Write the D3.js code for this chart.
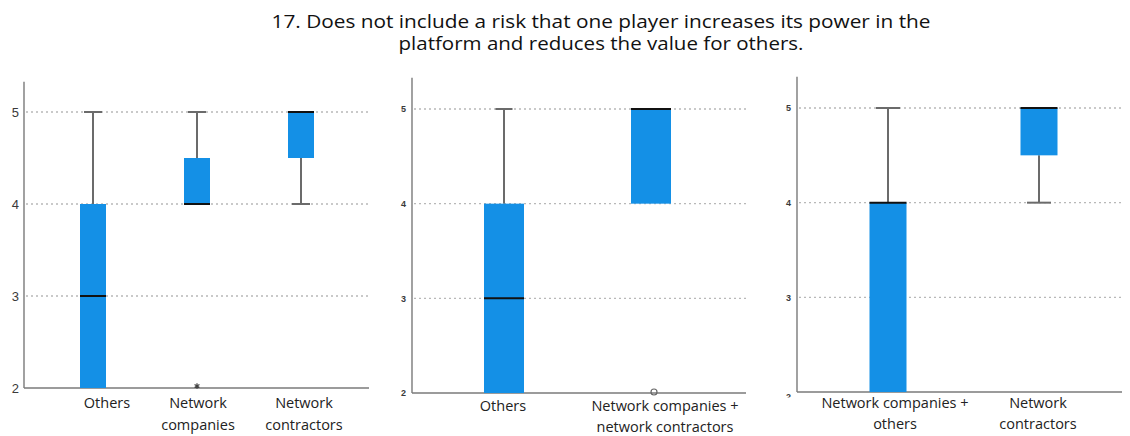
<!DOCTYPE html>
<html>
<head>
<meta charset="utf-8">
<script src="https://cdn.jsdelivr.net/npm/d3@7"></script>
<style>
  html, body { margin: 0; padding: 0; background: #fff; }
  svg { display: block; }
</style>
</head>
<body>
<svg id="chart" width="1130" height="436"></svg>
<script>
// ---- Data -------------------------------------------------------------
const titleLines = [
  "17. Does not include a risk that one player increases its power in the",
  "platform and reduces the value for others."
];
const yTicks = [2, 3, 4, 5];

// Panel A: three groups
const groupsA = ["Others", "Network companies", "Network contractors"];
const labelsA = [["Others"], ["Network", "companies"], ["Network", "contractors"]];
const minA    = [2, 4, 4];
const q1A     = [2, 4, 4.5];
const medA    = [3, 4, 5];
const q3A     = [4, 4.5, 5];
const maxA    = [5, 5, 5];
const outA    = [[], [2], []];          // extreme value (*)

// Panel B: others vs. all network parties
const groupsB = ["Others", "Network companies + network contractors"];
const labelsB = [["Others"], ["Network companies +", "network contractors"]];
const minB    = [2, 4];
const q1B     = [2, 4];
const medB    = [3, 5];
const q3B     = [4, 5];
const maxB    = [5, 5];
const outB    = [[], [2]];              // outlier (o)

// Panel C: network companies + others vs. contractors
const groupsC = ["Network companies + others", "Network contractors"];
const labelsC = [["Network companies +", "others"], ["Network", "contractors"]];
const minC    = [2, 4];
const q1C     = [2, 4.5];
const medC    = [4, 5];
const q3C     = [4, 5];
const maxC    = [5, 5];
const outC    = [[], []];

// ---- Layout -----------------------------------------------------------
const panels = [
  { groups: groupsA, labels: labelsA, min: minA, q1: q1A, med: medA, q3: q3A, max: maxA, out: outA,
    outShape: "star",
    axisX: 24, xEnd: 369, bandRange: [41, 353], boxW: 26, capW: 18,
    yBottom: 388, yTop5: 112, tickX: 15, tickSize: 13, tickWeight: "normal",
    labelDx: [14, 1, 3], labelY: 408, lineGap: 22, clipTick2: false },
  { groups: groupsB, labels: labelsB, min: minB, q1: q1B, med: medB, q3: q3B, max: maxB, out: outB,
    outShape: "circle",
    axisX: 412, xEnd: 746, bandRange: [430.5, 724.5], boxW: 40, capW: 17,
    yBottom: 393, yTop5: 109, tickX: 402, tickSize: 9, tickWeight: "bold",
    labelDx: [-1, 14], labelY: 411, lineGap: 21, clipTick2: false },
  { groups: groupsC, labels: labelsC, min: minC, q1: q1C, med: medC, q3: q3C, max: maxC, out: outC,
    outShape: "circle",
    axisX: 797, xEnd: 1122, bandRange: [812.5, 1114.5], boxW: 37, capW: 24,
    yBottom: 392, yTop5: 108, tickX: 787, tickSize: 9, tickWeight: "bold",
    labelDx: [7, -1], labelY: 408, lineGap: 21, clipTick2: true }
];

const boxFill = "#1490e6";
const whiskerColor = "#6b6b6b";
const svg = d3.select("#chart");

// Title
svg.append("g")
  .selectAll("text")
  .data(titleLines)
  .join("text")
  .attr("x", 601)
  .attr("y", (d, i) => 28 + i * 22)
  .attr("text-anchor", "middle")
  .attr("font-family", "'Open Sans', 'Noto Sans', sans-serif")
  .attr("font-size", 17.5)
  .attr("fill", "#111")
  .attr("textLength", (d, i) => i === 0 ? 659 : 405)
  .attr("lengthAdjust", "spacingAndGlyphs")
  .text(d => d);

// Clip (in tick-local coordinates) for the partly hidden "2" label of the last panel
svg.append("defs").append("clipPath").attr("id", "tickClip")
  .append("rect").attr("x", -20).attr("y", -20).attr("width", 30).attr("height", 25);

panels.forEach(p => {
  const g = svg.append("g");
  const y = d3.scaleLinear().domain([2, 5]).range([p.yBottom, p.yTop5]);
  const top = y(5.33);
  const x = d3.scalePoint().domain(p.groups).range(p.bandRange).padding(0.5);
  const cx = d => x(d);

  // dotted grid lines
  g.selectAll("line.grid")
    .data(yTicks.filter(t => t > 2))
    .join("line")
    .attr("x1", p.axisX + 2).attr("x2", p.xEnd)
    .attr("y1", d => y(d)).attr("y2", d => y(d))
    .attr("stroke", "#b8b8b8").attr("stroke-width", 1.4)
    .attr("stroke-dasharray", "2,3");

  // y axis tick labels via d3.axisLeft (domain line drawn separately)
  const ax = g.append("g")
    .attr("transform", `translate(${p.tickX + 4},0)`)
    .call(d3.axisLeft(y).tickValues(yTicks).tickSize(0).tickPadding(0).tickFormat(d3.format("d")));
  ax.select(".domain").remove();
  ax.selectAll("text")
    .attr("font-family", "'Liberation Sans', Arial, sans-serif")
    .attr("font-size", p.tickSize)
    .attr("font-weight", p.tickWeight)
    .attr("fill", "#3a3a3a");
  if (p.clipTick2) {
    ax.selectAll(".tick").filter(d => d === 2).attr("clip-path", "url(#tickClip)")
      .select("text").attr("dy", "0.8em");
  }

  // axis lines
  g.append("line")
    .attr("x1", p.axisX).attr("x2", p.axisX)
    .attr("y1", top).attr("y2", p.yBottom)
    .attr("stroke", "#7a7a7a").attr("stroke-width", 1.4);
  g.append("line")
    .attr("x1", p.axisX).attr("x2", p.xEnd)
    .attr("y1", p.yBottom).attr("y2", p.yBottom)
    .attr("stroke", "#7a7a7a").attr("stroke-width", 1.4);

  const rows = p.groups.map((grp, i) => ({
    grp, i, min: p.min[i], q1: p.q1[i], med: p.med[i], q3: p.q3[i], max: p.max[i], out: p.out[i]
  }));

  const bx = g.selectAll("g.box").data(rows).join("g").attr("class", "box");

  // upper whisker
  bx.filter(d => d.max > d.q3).append("line")
    .attr("x1", d => cx(d.grp)).attr("x2", d => cx(d.grp))
    .attr("y1", d => y(d.q3)).attr("y2", d => y(d.max))
    .attr("stroke", whiskerColor).attr("stroke-width", 2);
  bx.filter(d => d.max > d.q3).append("line")
    .attr("x1", d => cx(d.grp) - p.capW / 2).attr("x2", d => cx(d.grp) + p.capW / 2)
    .attr("y1", d => y(d.max)).attr("y2", d => y(d.max))
    .attr("stroke", whiskerColor).attr("stroke-width", 2);

  // lower whisker
  bx.filter(d => d.min < d.q1).append("line")
    .attr("x1", d => cx(d.grp)).attr("x2", d => cx(d.grp))
    .attr("y1", d => y(d.q1)).attr("y2", d => y(d.min))
    .attr("stroke", whiskerColor).attr("stroke-width", 2);
  bx.filter(d => d.min < d.q1).append("line")
    .attr("x1", d => cx(d.grp) - p.capW / 2).attr("x2", d => cx(d.grp) + p.capW / 2)
    .attr("y1", d => y(d.min)).attr("y2", d => y(d.min))
    .attr("stroke", whiskerColor).attr("stroke-width", 2);

  // box
  bx.append("rect")
    .attr("x", d => cx(d.grp) - p.boxW / 2)
    .attr("width", p.boxW)
    .attr("y", d => y(d.q3))
    .attr("height", d => y(d.q1) - y(d.q3))
    .attr("fill", boxFill);

  // median
  bx.append("line")
    .attr("x1", d => cx(d.grp) - p.boxW / 2).attr("x2", d => cx(d.grp) + p.boxW / 2)
    .attr("y1", d => y(d.med)).attr("y2", d => y(d.med))
    .attr("stroke", "#111").attr("stroke-width", 2);

  // outliers
  rows.forEach(d => {
    d.out.forEach(v => {
      if (p.outShape === "circle") {
        g.append("circle")
          .attr("cx", cx(d.grp) + 3).attr("cy", y(v) - 1).attr("r", 3)
          .attr("fill", "none").attr("stroke", "#666").attr("stroke-width", 1.2);
      } else {
        g.append("path")
          .attr("d", d3.symbol(d3.symbolAsterisk, 22)())
          .attr("transform", `translate(${cx(d.grp)},${y(v) - 2})`)
          .attr("stroke", "#444").attr("stroke-width", 1.2).attr("fill", "none");
      }
    });
  });

  // category labels
  g.selectAll("text.cat")
    .data(rows)
    .join("text")
    .attr("class", "cat")
    .attr("text-anchor", "middle")
    .attr("font-family", "'Open Sans', 'Noto Sans', sans-serif")
    .attr("font-size", 14.5)
    .attr("fill", "#222")
    .attr("transform", d => `translate(${cx(d.grp) + p.labelDx[d.i]},${p.labelY})`)
    .selectAll("tspan")
    .data(d => p.labels[d.i])
    .join("tspan")
    .attr("x", 0)
    .attr("y", (t, j) => j * p.lineGap)
    .text(t => t);
});
</script>
</body>
</html>
